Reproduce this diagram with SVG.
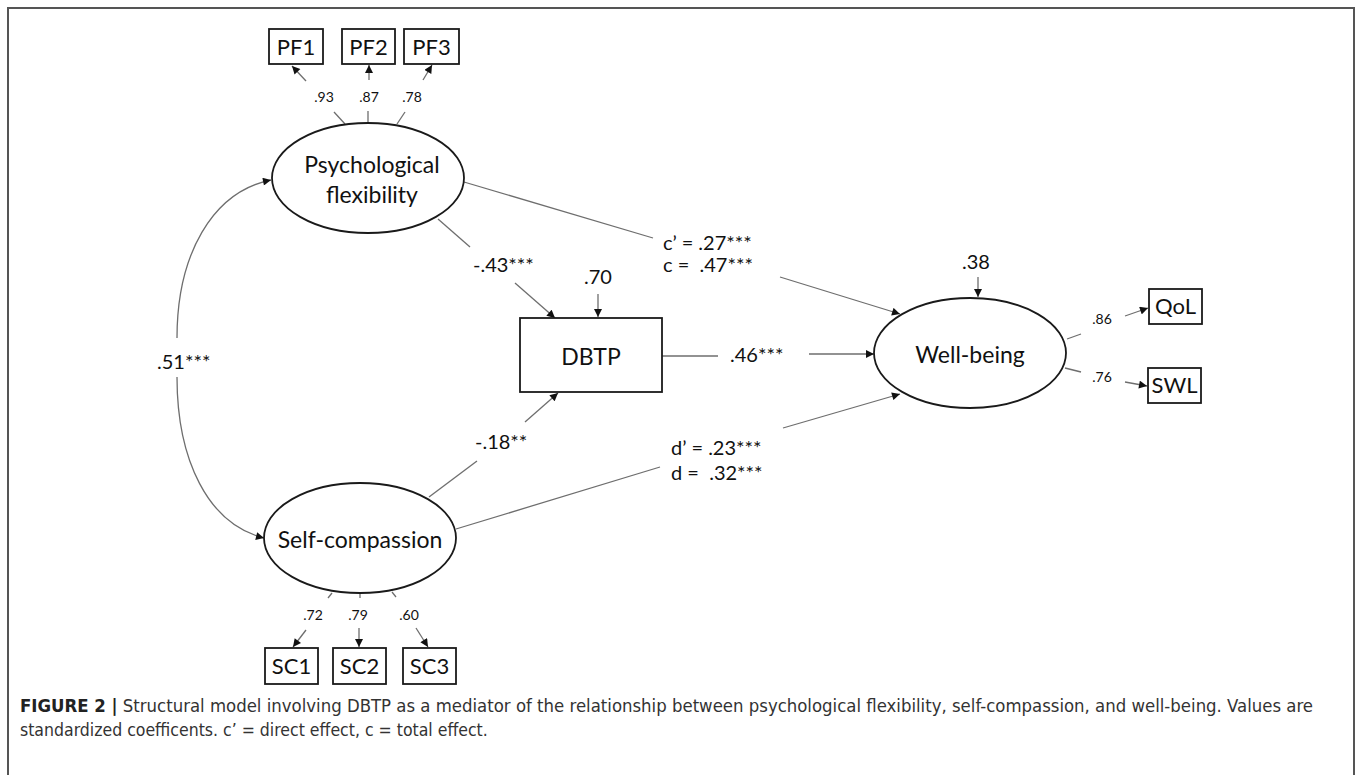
<svg xmlns="http://www.w3.org/2000/svg" width="1357" height="775" viewBox="0 0 1357 775">
<style>
.frame{fill:none;stroke:#555;stroke-width:2}
.box{fill:#fff;stroke:#1a1a1a;stroke-width:1.8}
.ell{fill:#fff;stroke:#1a1a1a;stroke-width:1.8}
.ln{fill:none;stroke:#6e6e6e;stroke-width:1.3}
.ar{fill:none;stroke:#6e6e6e;stroke-width:1.3;marker-end:url(#ah)}
.node{font-family:Lato,"Open Sans",sans-serif;font-size:23px;fill:#111;text-anchor:middle}
.ind{font-family:Lato,"Open Sans",sans-serif;font-size:22px;fill:#111;text-anchor:middle}
.lab{font-family:Lato,"Open Sans",sans-serif;font-size:20px;fill:#111;white-space:pre}
.sm{font-family:Lato,"Open Sans",sans-serif;font-size:14px;fill:#111;text-anchor:middle}
.cap{font-family:"Liberation Sans Narrow","DejaVu Sans Condensed","Liberation Sans",sans-serif;font-size:17.5px;fill:#333}
</style>
<defs>
<marker id="ah" viewBox="0 0 10 10" refX="10" refY="5" markerWidth="9" markerHeight="8" markerUnits="userSpaceOnUse" orient="auto">
<path d="M0,0 L10,5 L0,10 z" fill="#111"/>
</marker>
</defs>
<rect class="frame" x="8" y="8" width="1346" height="800"/>

<g id="connectors">
<line class="ln" x1="334" y1="112" x2="345" y2="124"/>
<line class="ln" x1="368" y1="111" x2="368" y2="124"/>
<line class="ln" x1="405" y1="112" x2="397" y2="124"/>
<line class="ar" x1="306" y1="81" x2="292" y2="66"/>
<line class="ar" x1="369" y1="80" x2="369" y2="65"/>
<line class="ar" x1="423" y1="80" x2="432" y2="65"/>
<path class="ar" d="M177,338 C177,255 212,192 271,180"/>
<path class="ar" d="M177,377 C177,460 208,524 264,538"/>
<line class="ln" x1="438" y1="219" x2="470" y2="247"/>
<line class="ar" x1="515" y1="283" x2="555" y2="318"/>
<line class="ar" x1="598" y1="294" x2="598" y2="317"/>
<line class="ln" x1="464" y1="182" x2="653" y2="238"/>
<line class="ar" x1="780" y1="277" x2="900" y2="314"/>
<line class="ln" x1="662" y1="356" x2="718" y2="356"/>
<line class="ar" x1="809" y1="354" x2="874" y2="354"/>
<line class="ar" x1="978" y1="277" x2="978" y2="297"/>
<line class="ln" x1="429" y1="497" x2="477" y2="461"/>
<line class="ar" x1="525" y1="422" x2="558" y2="393"/>
<line class="ln" x1="456" y1="529" x2="660" y2="467"/>
<line class="ar" x1="783" y1="428" x2="900" y2="394"/>
<line class="ln" x1="1067" y1="339" x2="1081" y2="334"/>
<line class="ar" x1="1125" y1="316" x2="1148" y2="308"/>
<line class="ln" x1="1065" y1="368" x2="1081" y2="372"/>
<line class="ar" x1="1125" y1="382" x2="1147" y2="386"/>
<line class="ln" x1="332" y1="593" x2="328" y2="598"/>
<line class="ln" x1="360" y1="593" x2="360" y2="598"/>
<line class="ln" x1="392" y1="592" x2="396" y2="597"/>
<line class="ar" x1="306" y1="630" x2="293" y2="647"/>
<line class="ar" x1="359" y1="628" x2="359" y2="647"/>
<line class="ar" x1="416" y1="628" x2="428" y2="647"/>
</g>

<g id="labels">
<text class="sm" x="324" y="102">.93</text>
<text class="sm" x="369" y="102">.87</text>
<text class="sm" x="412" y="102">.78</text>
<text class="lab" x="157" y="369">.51***</text>
<text class="lab" x="473" y="272">-.43***</text>
<text class="lab" x="584" y="284">.70</text>
<text class="lab" x="663" y="250">c’ = .27***</text>
<text class="lab" x="663" y="272">c =  .47***</text>
<text class="lab" x="730" y="362">.46***</text>
<text class="lab" x="962" y="269">.38</text>
<text class="lab" x="475" y="449">-.18**</text>
<text class="lab" x="671" y="455">d’ = .23***</text>
<text class="lab" x="671" y="480">d =  .32***</text>
<text class="sm" x="1102" y="324">.86</text>
<text class="sm" x="1102" y="382">.76</text>
<text class="sm" x="313" y="620">.72</text>
<text class="sm" x="358" y="620">.79</text>
<text class="sm" x="409" y="620">.60</text>
</g>

<g id="PF1"><rect class="box" x="269" y="29" width="54" height="35"/><text class="ind" x="296" y="55">PF1</text></g>
<g id="PF2"><rect class="box" x="342" y="29" width="53" height="35"/><text class="ind" x="368.5" y="55">PF2</text></g>
<g id="PF3"><rect class="box" x="404" y="29" width="55" height="35"/><text class="ind" x="431.5" y="55">PF3</text></g>

<g id="psychological-flexibility"><ellipse class="ell" cx="368" cy="178" rx="96" ry="55"/><text class="node" x="372" y="173">Psychological</text><text class="node" x="372" y="203">flexibility</text></g>

<g id="DBTP"><rect class="box" x="520" y="318" width="142" height="74"/><text class="node" x="591" y="365">DBTP</text></g>

<g id="well-being"><ellipse class="ell" cx="970" cy="353" rx="96" ry="55"/><text class="node" x="970" y="363">Well-being</text></g>

<g id="self-compassion"><ellipse class="ell" cx="360" cy="538" rx="96" ry="55"/><text class="node" x="360" y="548">Self-compassion</text></g>

<g id="QoL"><rect class="box" x="1149" y="289" width="53" height="35"/><text class="ind" x="1175.5" y="314">QoL</text></g>
<g id="SWL"><rect class="box" x="1148" y="368" width="53" height="35"/><text class="ind" x="1174.5" y="393">SWL</text></g>

<g id="SC1"><rect class="box" x="265" y="648" width="53" height="36"/><text class="ind" x="291.5" y="674">SC1</text></g>
<g id="SC2"><rect class="box" x="333" y="648" width="53" height="36"/><text class="ind" x="359.5" y="674">SC2</text></g>
<g id="SC3"><rect class="box" x="403" y="648" width="53" height="36"/><text class="ind" x="429.5" y="674">SC3</text></g>

<g id="caption">
<text class="cap" x="20" y="712" textLength="1293" lengthAdjust="spacingAndGlyphs"><tspan font-weight="bold" fill="#222">FIGURE 2 |</tspan> Structural model involving DBTP as a mediator of the relationship between psychological flexibility, self-compassion, and well-being. Values are</text>
<text class="cap" x="20" y="736">standardized coefficents. c’ = direct effect, c = total effect.</text>
</g>
</svg>
